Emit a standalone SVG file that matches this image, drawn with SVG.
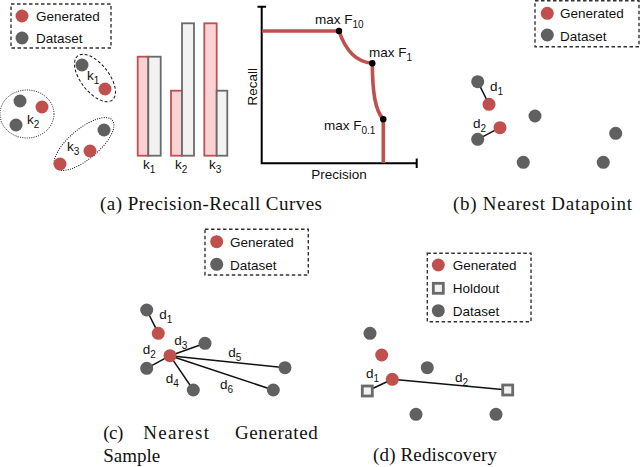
<svg xmlns="http://www.w3.org/2000/svg" width="640" height="467" viewBox="0 0 640 467">
<style>
.t{font-family:"Liberation Sans",Arial,sans-serif;font-size:13.5px;fill:#111}
.cap{font-family:"Liberation Serif","Times New Roman",serif;font-size:19px;fill:#111}
.gen{fill:#c0504d}
.dat{fill:#606060}
.leg{fill:none;stroke:#333;stroke-width:1.4;stroke-dasharray:3.5 2.5}
.ln{stroke:#111;stroke-width:1.5;fill:none}
.rb{fill:#f9d3d3;stroke:#c0504d;stroke-width:1.8}
.gb{fill:#f2f2f2;stroke:#6a6a6a;stroke-width:1.8}
.hold{fill:#f2f2f2;stroke:#6a6a6a;stroke-width:2.8}
.dot{fill:#000}
</style>
<rect width="640" height="467" fill="#fff"/>

<!-- Panel (a) -->
<g id="legend-a">
<rect class="leg" x="11" y="4" width="100" height="44"/>
<circle class="gen" cx="22" cy="16" r="6.5"/>
<text class="t" x="36" y="20.7">Generated</text>
<circle class="dat" cx="22" cy="38" r="6.5"/>
<text class="t" x="36" y="42.7">Dataset</text>
</g>
<g id="cluster-k1">
<ellipse cx="95" cy="78" rx="28" ry="14" transform="rotate(52 95 78)" fill="none" stroke="#111" stroke-width="1" stroke-dasharray="3 2"/>
<circle class="dat" cx="82" cy="65" r="6.5"/>
<circle class="gen" cx="105" cy="89" r="6.5"/>
<text class="t" x="87" y="80">k<tspan font-size="10" dy="4">1</tspan></text>
</g>
<g id="cluster-k2">
<ellipse cx="27" cy="114" rx="27" ry="24" fill="none" stroke="#111" stroke-width="1" stroke-dasharray="1 1.3"/>
<circle class="dat" cx="20" cy="101" r="6.5"/>
<circle class="dat" cx="16" cy="125" r="6.5"/>
<circle class="gen" cx="42" cy="107" r="6.5"/>
<text class="t" x="27" y="124">k<tspan font-size="10" dy="4">2</tspan></text>
</g>
<g id="cluster-k3">
<ellipse cx="84" cy="144" rx="37" ry="15" transform="rotate(-40 84 144)" fill="none" stroke="#111" stroke-width="1" stroke-dasharray="1 1.3"/>
<circle class="dat" cx="104" cy="130" r="6.5"/>
<circle class="gen" cx="90" cy="151" r="6.5"/>
<circle class="gen" cx="60" cy="164" r="6.5"/>
<text class="t" x="67" y="151">k<tspan font-size="10" dy="4">3</tspan></text>
</g>
<g id="bars">
<rect class="rb" x="137.7" y="56.7" width="10.6" height="99"/>
<rect class="gb" x="148.3" y="56.7" width="12.4" height="99"/>
<rect class="rb" x="171" y="90.7" width="11" height="65"/>
<rect class="gb" x="182" y="23.3" width="12" height="132.4"/>
<rect class="rb" x="204.3" y="23.3" width="12.4" height="132.4"/>
<rect class="gb" x="216.7" y="90.7" width="10.6" height="65"/>
<text class="t" x="143" y="169">k<tspan font-size="10" dy="4">1</tspan></text>
<text class="t" x="175" y="169">k<tspan font-size="10" dy="4">2</tspan></text>
<text class="t" x="209" y="169">k<tspan font-size="10" dy="4">3</tspan></text>
</g>
<g id="pr-plot">
<path d="M261.7,6.7 V163.3 H416.7" fill="none" stroke="#000" stroke-width="2"/>
<path d="M257.5,6.7 H266 M416.7,158.5 V168" fill="none" stroke="#000" stroke-width="2"/>
<path d="M262,31 L339,31 C345,49 355,62 372.3,63.3 C372.5,92 375,110 383.3,119.3 L383.3,163" fill="none" stroke="#c0504d" stroke-width="3.6"/>
<circle class="dot" cx="339" cy="31" r="3.2"/>
<circle class="dot" cx="372.3" cy="63.3" r="3.2"/>
<circle class="dot" cx="383.3" cy="119.3" r="3.2"/>
<text class="t" x="315" y="24">max F<tspan font-size="10" dy="4">10</tspan></text>
<text class="t" x="369" y="56.7">max F<tspan font-size="10" dy="4">1</tspan></text>
<text class="t" x="324" y="130">max F<tspan font-size="10" dy="4">0.1</tspan></text>
<text class="t" text-anchor="middle" transform="translate(256.5 86.7) rotate(-90)">Recall</text>
<text class="t" x="339" y="179" text-anchor="middle">Precision</text>
</g>
<text class="cap" x="100" y="210.3" textLength="222" lengthAdjust="spacing">(a) Precision-Recall Curves</text>

<!-- Panel (b) -->
<g id="legend-b">
<rect class="leg" x="535" y="0.7" width="104" height="46"/>
<circle class="gen" cx="547.3" cy="13.3" r="6.5"/>
<text class="t" x="560" y="18.3">Generated</text>
<circle class="dat" cx="547.3" cy="35" r="6.5"/>
<text class="t" x="560" y="40.7">Dataset</text>
</g>
<g id="connectors-b">
<line class="ln" x1="477.7" y1="81.7" x2="489" y2="104.3"/>
<line class="ln" x1="500" y1="127.7" x2="477.7" y2="139.3"/>
</g>
<g id="points-b">
<circle class="dat" cx="477.7" cy="81.7" r="6.5"/>
<circle class="gen" cx="489" cy="104.3" r="6.5"/>
<circle class="dat" cx="535" cy="116" r="6.5"/>
<circle class="gen" cx="500" cy="127.7" r="6.5"/>
<circle class="dat" cx="477.7" cy="139.3" r="6.5"/>
<circle class="dat" cx="615.7" cy="133.3" r="6.5"/>
<circle class="dat" cx="523.3" cy="162.3" r="6.5"/>
<circle class="dat" cx="603.3" cy="162.3" r="6.5"/>
<text class="t" x="490" y="91">d<tspan font-size="10" dy="4">1</tspan></text>
<text class="t" x="473" y="128">d<tspan font-size="10" dy="4">2</tspan></text>
</g>
<text class="cap" x="453" y="210.3" textLength="179" lengthAdjust="spacing">(b) Nearest Datapoint</text>

<!-- Panel (c) -->
<g id="legend-c">
<rect class="leg" x="205" y="229.3" width="103.3" height="45.7"/>
<circle class="gen" cx="216.7" cy="241.7" r="6.5"/>
<text class="t" x="230" y="247">Generated</text>
<circle class="dat" cx="216.7" cy="264.3" r="6.5"/>
<text class="t" x="230" y="269.5">Dataset</text>
</g>
<g id="connectors-c">
<line class="ln" x1="146.7" y1="310" x2="158.3" y2="333.3"/>
<line class="ln" x1="170" y1="355.7" x2="205" y2="343.3"/>
<line class="ln" x1="170" y1="355.7" x2="146.7" y2="368.3"/>
<line class="ln" x1="170" y1="355.7" x2="285" y2="367.7"/>
<line class="ln" x1="170" y1="355.7" x2="193.3" y2="390"/>
<line class="ln" x1="170" y1="355.7" x2="273.3" y2="390"/>
</g>
<g id="points-c">
<circle class="dat" cx="146.7" cy="310" r="6.5"/>
<circle class="gen" cx="158.3" cy="333.3" r="6.5"/>
<circle class="gen" cx="170" cy="355.7" r="6.5"/>
<circle class="dat" cx="205" cy="343.3" r="6.5"/>
<circle class="dat" cx="146.7" cy="368.3" r="6.5"/>
<circle class="dat" cx="285" cy="367.7" r="6.5"/>
<circle class="dat" cx="193.3" cy="390" r="6.5"/>
<circle class="dat" cx="273.3" cy="390" r="6.5"/>
<text class="t" x="159.3" y="319.3">d<tspan font-size="10" dy="4">1</tspan></text>
<text class="t" x="142.7" y="354.3">d<tspan font-size="10" dy="4">2</tspan></text>
<text class="t" x="174.3" y="345">d<tspan font-size="10" dy="4">3</tspan></text>
<text class="t" x="165.7" y="382.7">d<tspan font-size="10" dy="4">4</tspan></text>
<text class="t" x="228.3" y="356.7">d<tspan font-size="10" dy="4">5</tspan></text>
<text class="t" x="220" y="389.3">d<tspan font-size="10" dy="4">6</tspan></text>
</g>
<text class="cap" x="103.3" y="439.3" textLength="20" lengthAdjust="spacing">(c)</text>
<text class="cap" x="143.3" y="439.3" textLength="65.7" lengthAdjust="spacing">Nearest</text>
<text class="cap" x="235" y="439.3" textLength="82.7" lengthAdjust="spacing">Generated</text>
<text class="cap" x="103.3" y="461.7">Sample</text>

<!-- Panel (d) -->
<g id="legend-d">
<rect class="leg" x="427.3" y="253.3" width="103.7" height="68.4"/>
<circle class="gen" cx="438.3" cy="265" r="6.5"/>
<text class="t" x="452.7" y="270">Generated</text>
<rect class="hold" x="433.3" y="283.3" width="10" height="10"/>
<text class="t" x="452.7" y="293.3">Holdout</text>
<circle class="dat" cx="438.3" cy="310.7" r="6.5"/>
<text class="t" x="452.7" y="316">Dataset</text>
</g>
<g id="connectors-d">
<line class="ln" x1="392.3" y1="379.3" x2="367.3" y2="391"/>
<line class="ln" x1="392.3" y1="379.3" x2="507.7" y2="390"/>
</g>
<g id="points-d">
<circle class="dat" cx="370" cy="333.3" r="6.5"/>
<circle class="gen" cx="381.7" cy="355" r="6.5"/>
<circle class="gen" cx="392.3" cy="379.3" r="6.5"/>
<circle class="dat" cx="427.3" cy="367.7" r="6.5"/>
<rect class="hold" x="362.3" y="386" width="10" height="10"/>
<rect class="hold" x="502.7" y="385" width="10" height="10"/>
<circle class="dat" cx="416" cy="414.3" r="6.5"/>
<circle class="dat" cx="496" cy="414.3" r="6.5"/>
<text class="t" x="366" y="377.5">d<tspan font-size="10" dy="4">1</tspan></text>
<text class="t" x="455" y="381.7">d<tspan font-size="10" dy="4">2</tspan></text>
</g>
<text class="cap" x="373" y="461" textLength="124" lengthAdjust="spacing">(d) Rediscovery</text>
</svg>
